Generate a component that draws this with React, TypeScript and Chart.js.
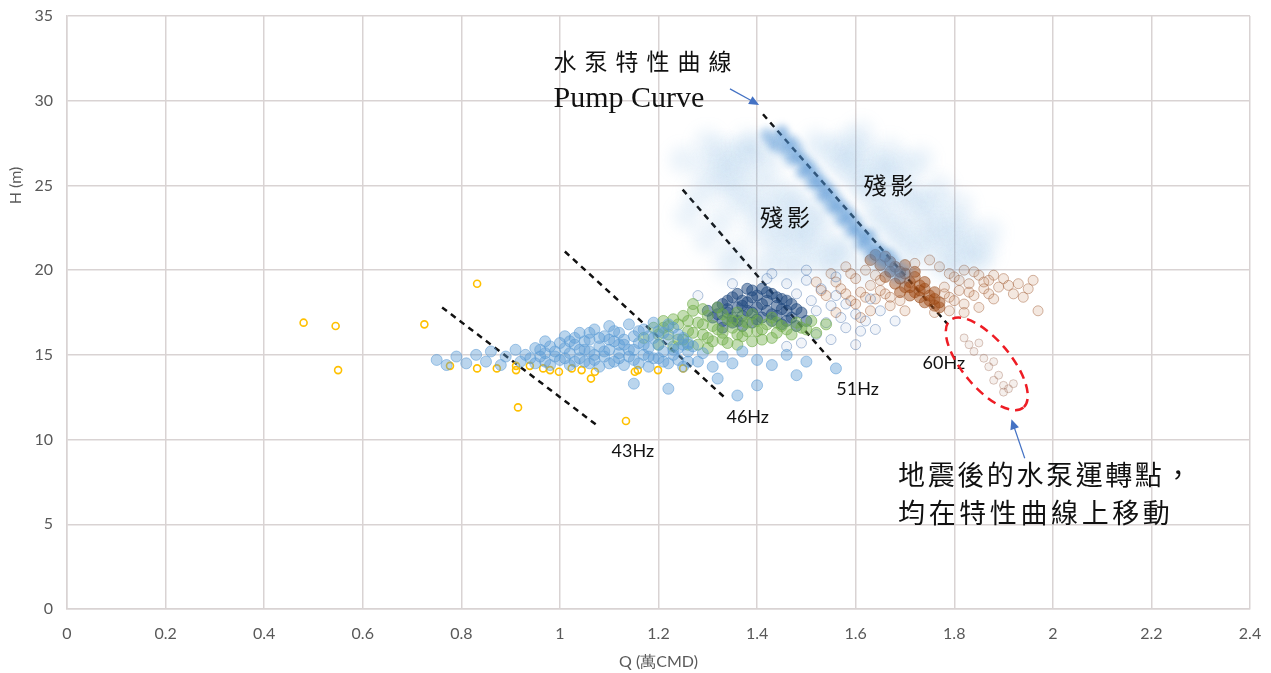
import { useEffect, useRef } from "react";
import { Chart, registerables } from "chart.js";

Chart.register(...registerables);

// Q (萬CMD) vs H (m) operating points, grouped by colour
const yellowPts = [
  [0.48, 16.9], [0.545, 16.7], [0.55, 14.1], [0.725, 16.8], [0.832, 19.2], [0.777, 14.35],
  [0.832, 14.2], [0.872, 14.2], [0.911, 14.1], [0.911, 14.35], [0.915, 11.9], [0.939, 14.35],
  [0.966, 14.2], [0.98, 14.1], [0.998, 14.0], [1.024, 14.2], [1.044, 14.1], [1.063, 13.6],
  [1.071, 14.0], [1.134, 11.1], [1.152, 14.0], [1.158, 14.1], [1.199, 14.1], [1.25, 14.2],
];

const blueLowPts = [
  [0.75, 14.7], [0.77, 14.4], [0.79, 14.9], [0.81, 14.5], [0.83, 15.0], [0.85, 14.6], [0.86, 15.2],
  [0.88, 14.4], [0.89, 14.9], [0.91, 15.3], [0.92, 14.6], [0.93, 15.0],
  [0.95, 14.5], [0.95, 15.4], [0.96, 14.9], [0.97, 15.8], [0.98, 14.4], [0.99, 15.2], [1.0, 14.7],
  [1.0, 15.7], [1.01, 16.1], [1.02, 14.4], [1.02, 15.1], [1.03, 15.6], [1.04, 14.8], [1.04, 16.3],
  [1.05, 15.3], [1.06, 14.5], [1.06, 15.9], [1.07, 15.0], [1.07, 16.5], [1.08, 14.3], [1.08, 15.5],
  [1.09, 14.9], [1.09, 16.1], [1.1, 15.3], [1.1, 16.7], [1.11, 14.6], [1.11, 15.8], [1.12, 15.1],
  [1.12, 16.3], [1.13, 14.4], [1.13, 15.6], [1.14, 14.9], [1.14, 16.8], [1.15, 15.3], [1.15, 16.1],
  [1.16, 14.5], [1.16, 15.7], [1.17, 15.0], [1.17, 16.5], [1.18, 14.3], [1.18, 15.4], [1.19, 16.0],
  [1.19, 16.9], [1.2, 14.8], [1.2, 15.6], [1.21, 15.2], [1.21, 16.3], [1.22, 14.5], [1.22, 15.9],
  [1.23, 15.0], [1.23, 16.6], [1.24, 14.7], [1.24, 15.4], [1.25, 16.0], [1.25, 14.3], [1.26, 15.2],
  [1.26, 15.7], [1.28, 14.6], [1.29, 15.1], [1.31, 14.3], [1.33, 14.9], [1.35, 14.5], [1.37, 15.2],
  [1.4, 14.7], [1.43, 14.4], [1.46, 15.0], [1.5, 14.6],
  [1.15, 13.3], [1.22, 13.0], [1.32, 13.6], [1.4, 13.2], [1.48, 13.8], [1.56, 14.2], [1.36, 12.6],
  [0.96, 15.3], [0.97, 14.6], [0.98, 15.5], [0.99, 14.9], [1.01, 15.4], [1.01, 14.8], [1.03, 14.6],
  [1.03, 16.0], [1.04, 15.3], [1.05, 14.6], [1.05, 15.8], [1.06, 15.2], [1.07, 14.7], [1.08, 16.0],
  [1.09, 15.2], [1.1, 14.5], [1.1, 15.9], [1.11, 16.4], [1.12, 14.8], [1.13, 15.9], [1.14, 15.3],
  [1.15, 14.7], [1.16, 16.4], [1.17, 15.6], [1.18, 16.1], [1.19, 14.8], [1.2, 16.4], [1.21, 14.6],
  [1.22, 16.8], [1.23, 15.3], [1.24, 16.2], [1.25, 15.6], [1.26, 14.6], [1.27, 15.5], [1.02, 15.8],
  [1.06, 16.3], [1.12, 15.6], [1.18, 14.9], [0.94, 14.8], [0.97, 15.1],
];

const greenPts = [
  [1.17, 16.0], [1.19, 16.6], [1.2, 15.6], [1.21, 17.0], [1.22, 16.2], [1.23, 15.5], [1.24, 16.8],
  [1.25, 17.3], [1.25, 15.9], [1.26, 16.4], [1.27, 17.6], [1.28, 15.6], [1.28, 16.9], [1.29, 16.2],
  [1.3, 17.3], [1.31, 15.8], [1.31, 16.7], [1.32, 17.8], [1.33, 16.3], [1.34, 17.1], [1.34, 15.7],
  [1.35, 16.6], [1.36, 17.5], [1.37, 16.1], [1.38, 16.9], [1.39, 17.4], [1.4, 16.4], [1.41, 15.9],
  [1.42, 16.8], [1.43, 17.2], [1.44, 16.3], [1.45, 16.7], [1.47, 16.2], [1.48, 16.9], [1.5, 16.5],
  [1.52, 16.3], [1.54, 16.8], [1.36, 15.6], [1.3, 15.4], [1.27, 18.0], [1.39, 15.8],
  [1.2, 16.2], [1.22, 16.7], [1.23, 17.1], [1.24, 15.9], [1.26, 17.0], [1.27, 16.3], [1.29, 16.8],
  [1.29, 17.7], [1.3, 16.0], [1.32, 16.5], [1.33, 17.4], [1.35, 17.0], [1.36, 16.2], [1.37, 17.0],
  [1.38, 16.4], [1.4, 17.0], [1.41, 16.5], [1.43, 16.0], [1.44, 16.9], [1.46, 16.5], [1.49, 16.6],
  [1.51, 17.0], [1.33, 15.9], [1.26, 15.6], [1.21, 16.6],
];

const darkBluePts = [
  [1.31, 17.2], [1.32, 17.8], [1.33, 17.0], [1.34, 18.2], [1.34, 17.5], [1.35, 16.9], [1.36, 18.6],
  [1.36, 17.8], [1.37, 17.3], [1.38, 18.9], [1.38, 18.1], [1.39, 17.5], [1.39, 16.9], [1.4, 18.5],
  [1.4, 17.8], [1.41, 17.2], [1.41, 18.9], [1.42, 18.2], [1.42, 17.6], [1.43, 17.0], [1.43, 18.6],
  [1.44, 17.9], [1.44, 17.3], [1.45, 18.3], [1.45, 16.8], [1.46, 17.6], [1.47, 18.0], [1.47, 17.2],
  [1.48, 16.7], [1.49, 17.5], [1.5, 17.0], [1.37, 16.7], [1.33, 16.6], [1.3, 17.6],
  [1.32, 17.4], [1.33, 18.0], [1.35, 17.2], [1.35, 18.4], [1.36, 17.0], [1.37, 18.2], [1.38, 17.6],
  [1.39, 18.4], [1.4, 17.1], [1.41, 18.0], [1.42, 18.7], [1.43, 17.4], [1.44, 18.4], [1.45, 17.7],
  [1.46, 18.2], [1.46, 17.0], [1.48, 17.7], [1.39, 18.8], [1.37, 17.9], [1.34, 17.7],
];

const midBluePts = [
  [1.42, 19.5], [1.46, 19.2], [1.48, 18.6], [1.5, 19.4], [1.51, 18.2], [1.52, 17.6], [1.53, 18.9],
  [1.54, 16.9], [1.55, 17.9], [1.56, 18.5], [1.57, 17.2], [1.58, 16.6], [1.58, 18.0], [1.6, 17.4],
  [1.61, 16.4], [1.62, 17.0], [1.63, 18.3], [1.65, 17.6], [1.52, 16.2], [1.55, 15.9], [1.49, 15.7],
  [1.46, 15.5], [1.43, 19.8], [1.35, 19.2], [1.28, 18.5], [1.6, 15.6], [1.64, 16.5], [1.68, 17.0],
  [1.56, 19.6], [1.5, 20.0],
];

// faded trail ("殘影") along the pump curve and its surrounding haze
const ghostStreakPts = [
  [1.43, 27.6], [1.45, 27.9], [1.46, 27.0], [1.47, 26.5], [1.48, 27.2], [1.49, 25.8], [1.5, 26.3],
  [1.51, 25.2], [1.52, 25.6], [1.53, 24.5], [1.54, 24.9], [1.55, 23.8], [1.56, 24.2], [1.57, 23.0],
  [1.58, 23.5], [1.59, 22.3], [1.6, 22.8], [1.61, 21.6], [1.62, 22.0], [1.63, 21.0], [1.64, 21.4],
  [1.65, 20.5], [1.66, 20.9], [1.67, 20.0], [1.68, 20.4], [1.69, 19.6], [1.7, 19.9], [1.47, 27.6],
  [1.51, 26.0], [1.55, 24.6], [1.59, 23.2], [1.63, 22.0], [1.67, 20.8],
  [1.44, 27.3], [1.46, 27.4], [1.48, 26.7], [1.5, 25.8], [1.52, 25.1], [1.53, 25.2], [1.54, 24.3],
  [1.56, 23.6], [1.57, 23.8], [1.58, 22.9], [1.6, 22.4], [1.61, 22.2], [1.62, 21.5], [1.64, 20.9],
  [1.65, 21.1], [1.66, 20.4], [1.68, 19.9], [1.49, 26.6], [1.45, 28.2], [1.42, 28.0],
];

const ghostHazePts = [
  [1.3, 26.0], [1.33, 27.0], [1.35, 25.5], [1.37, 26.8], [1.38, 24.0], [1.4, 27.2], [1.4, 22.5],
  [1.42, 25.0], [1.43, 21.5], [1.44, 23.5], [1.46, 24.5], [1.47, 22.0], [1.49, 23.2], [1.5, 21.0],
  [1.52, 22.5], [1.54, 20.8], [1.36, 21.0], [1.33, 23.0], [1.45, 20.5], [1.25, 26.5], [1.28, 24.5],
  [1.55, 27.0], [1.57, 26.2], [1.58, 27.5], [1.6, 25.5], [1.62, 26.8], [1.63, 24.5], [1.65, 25.8],
  [1.66, 23.5], [1.68, 24.8], [1.69, 22.5], [1.7, 26.0], [1.72, 23.8], [1.73, 21.5], [1.75, 24.0],
  [1.76, 22.0], [1.78, 23.0], [1.8, 21.0], [1.82, 22.5], [1.84, 20.5], [1.77, 20.5], [1.71, 21.0],
  [1.67, 27.0], [1.61, 28.0],
  [1.32, 25.0], [1.34, 26.2], [1.36, 24.5], [1.39, 25.8], [1.41, 23.5], [1.43, 26.5], [1.45, 22.5],
  [1.48, 24.0], [1.5, 22.0], [1.53, 23.5], [1.56, 21.5], [1.59, 26.5], [1.62, 25.0], [1.64, 23.0],
  [1.66, 26.0], [1.68, 22.0], [1.71, 24.5], [1.74, 22.8], [1.77, 24.8], [1.79, 22.0], [1.81, 23.8],
  [1.83, 21.5], [1.86, 21.0], [1.73, 26.5], [1.52, 27.5], [1.38, 27.5], [1.3, 27.5], [1.58, 21.0],
  [1.48, 20.0], [1.62, 20.0],
  [1.34, 20.2], [1.41, 20.0], [1.3, 21.8], [1.26, 23.2], [1.55, 20.0], [1.8, 20.0], [1.87, 22.2],
];

const brownCorePts = [
  [1.63, 20.6], [1.65, 20.3], [1.66, 20.8], [1.67, 19.9], [1.68, 20.2], [1.69, 19.5], [1.7, 19.8],
  [1.7, 19.0], [1.71, 19.3], [1.72, 18.7], [1.72, 19.6], [1.73, 18.4], [1.74, 18.9], [1.74, 18.1],
  [1.75, 18.5], [1.76, 17.9], [1.76, 18.3], [1.77, 17.8], [1.68, 19.2], [1.71, 18.5], [1.73, 19.1],
  [1.66, 19.6],
  [1.64, 20.9], [1.67, 20.5], [1.69, 19.9], [1.7, 20.3], [1.71, 19.0], [1.73, 18.8], [1.75, 18.2],
  [1.76, 18.7], [1.74, 19.3], [1.72, 19.9], [1.77, 18.1], [1.69, 18.7],
];

const brownPts = [
  [1.52, 19.3], [1.54, 18.5], [1.55, 19.8], [1.57, 18.9], [1.58, 20.2], [1.59, 18.2], [1.6, 19.5],
  [1.61, 18.7], [1.62, 20.0], [1.63, 19.1], [1.64, 18.3], [1.65, 19.4], [1.66, 18.6], [1.67, 17.9],
  [1.69, 18.2], [1.78, 19.0], [1.79, 18.4], [1.8, 19.6], [1.81, 18.8], [1.82, 20.0], [1.83, 19.2],
  [1.84, 18.5], [1.85, 19.7], [1.86, 18.9], [1.87, 19.4], [1.88, 18.3], [1.89, 19.0], [1.9, 19.5],
  [1.92, 18.6], [1.93, 19.2], [1.95, 18.9], [1.97, 17.6], [1.77, 20.2], [1.79, 17.6], [1.82, 17.5],
  [1.75, 20.6], [1.72, 20.4], [1.85, 17.8], [1.56, 17.5], [1.61, 17.2],
  [1.53, 18.8], [1.56, 19.3], [1.58, 18.6], [1.59, 19.8], [1.62, 18.4], [1.64, 19.7], [1.65, 18.8],
  [1.67, 18.4], [1.78, 18.6], [1.8, 18.2], [1.81, 19.4], [1.83, 18.7], [1.84, 19.9], [1.86, 19.3],
  [1.87, 18.6], [1.88, 19.7], [1.91, 19.1], [1.94, 18.4], [1.79, 19.8], [1.82, 18.0], [1.6, 18.0],
  [1.63, 17.6], [1.96, 19.4], [1.7, 17.6], [1.76, 17.5],
];

// points after the earthquake, moving down the curve
const afterQuakePts = [
  [1.82, 16.0], [1.83, 15.6], [1.84, 15.2], [1.85, 15.7], [1.86, 14.8], [1.87, 14.3], [1.88, 14.6],
  [1.89, 13.8], [1.9, 13.2], [1.91, 13.0], [1.9, 12.8], [1.88, 13.5], [1.92, 13.3],
];

// constant-frequency guide lines and the pump curve
const pumpCurve = [[1.412, 29.2], [1.787, 16.8]];
const line51Hz = [[1.249, 24.75], [1.552, 14.6]];
const line46Hz = [[1.01, 21.1], [1.335, 12.46]];
const line43Hz = [[0.761, 17.8], [1.077, 10.8]];

const xTicks = { min: 0, max: 2.4, step: 0.2 };
const yTicks = { min: 0, max: 35, step: 5 };

const xy = (arr: number[][]) => arr.map(([x, y]) => ({ x, y }));

const GRID = "#d9d3d3";
const TICK_COLOR = "#595959";

// datasets drawn with a soft blur (the faded trail)
const BLUR_BY_INDEX: Record<number, string> = { 0: "blur(7px)", 1: "blur(3px)" };

function drawArrow(ctx: CanvasRenderingContext2D, x1: number, y1: number, x2: number, y2: number, color: string) {
  const ang = Math.atan2(y2 - y1, x2 - x1);
  const len = 10;
  const half = 4.5;
  ctx.save();
  ctx.strokeStyle = color;
  ctx.fillStyle = color;
  ctx.lineWidth = 1.2;
  ctx.beginPath();
  ctx.moveTo(x1, y1);
  ctx.lineTo(x2 - Math.cos(ang) * len * 0.8, y2 - Math.sin(ang) * len * 0.8);
  ctx.stroke();
  ctx.beginPath();
  ctx.moveTo(x2, y2);
  ctx.lineTo(x2 - Math.cos(ang) * len - Math.sin(ang) * half, y2 - Math.sin(ang) * len + Math.cos(ang) * half);
  ctx.lineTo(x2 - Math.cos(ang) * len + Math.sin(ang) * half, y2 - Math.sin(ang) * len - Math.cos(ang) * half);
  ctx.closePath();
  ctx.fill();
  ctx.restore();
}

function drawSpaced(ctx: CanvasRenderingContext2D, text: string, x: number, y: number, advance: number) {
  Array.from(text).forEach((ch, i) => ctx.fillText(ch, x + i * advance, y));
}

const overlayPlugin = {
  id: "overlay",
  beforeDatasetDraw(chart: any, args: any) {
    const f = BLUR_BY_INDEX[args.index];
    if (f) {
      chart.ctx.save();
      chart.ctx.filter = f;
    }
  },
  afterDatasetDraw(chart: any, args: any) {
    if (BLUR_BY_INDEX[args.index]) chart.ctx.restore();
  },
  afterDatasetsDraw(chart: any) {
    const { ctx } = chart;
    const sx = chart.scales.x;
    const sy = chart.scales.y;
    const px = (v: number) => sx.getPixelForValue(v);
    const py = (v: number) => sy.getPixelForValue(v);
    ctx.save();

    // frequency labels
    ctx.fillStyle = "#111";
    ctx.font = "18px Lato";
    ctx.textAlign = "center";
    ctx.textBaseline = "middle";
    ctx.fillText("43Hz", px(1.148), py(9.3));
    ctx.fillText("46Hz", px(1.381), py(11.35));
    ctx.fillText("51Hz", px(1.604), py(13.0));
    ctx.fillText("60Hz", px(1.779), py(14.5));

    // pump curve caption
    ctx.textAlign = "left";
    ctx.textBaseline = "middle";
    ctx.fillStyle = "#111";
    ctx.font = "23px 'Noto Sans CJK TC'";
    drawSpaced(ctx, "水泵特性曲線", px(0.987), py(32.3), 31);
    ctx.font = "30px 'Liberation Serif'";
    ctx.textBaseline = "alphabetic";
    ctx.fillText("Pump Curve", px(0.987), py(29.6));

    // ghost trail captions
    ctx.font = "23px 'Noto Sans CJK TC'";
    ctx.textBaseline = "middle";
    drawSpaced(ctx, "殘影", px(1.406), py(23.1), 27);
    drawSpaced(ctx, "殘影", px(1.616), py(25.0), 27);

    // post-earthquake note
    ctx.font = "27px 'Noto Sans CJK TC'";
    drawSpaced(ctx, "地震後的水泵運轉點，", px(1.686), py(7.95), 29.6);
    drawSpaced(ctx, "均在特性曲線上移動", px(1.686), py(5.7), 30.6);

    // arrows
    drawArrow(ctx, px(1.345), py(30.7), px(1.404), py(29.75), "#4472C4");
    drawArrow(ctx, px(1.943), py(8.9), px(1.916), py(11.2), "#4472C4");

    // red dashed ellipse around the post-earthquake points
    ctx.strokeStyle = "#ee1c24";
    ctx.lineWidth = 2.5;
    ctx.setLineDash([9, 6]);
    ctx.beginPath();
    ctx.ellipse(px(1.866), py(14.47), 57, 24, (50 * Math.PI) / 180, 0, Math.PI * 2);
    ctx.stroke();
    ctx.setLineDash([]);

    // axis titles
    ctx.fillStyle = TICK_COLOR;
    ctx.font = "16px Lato";
    ctx.textAlign = "center";
    ctx.textBaseline = "middle";
    ctx.fillText("Q (萬CMD)", (sx.left + sx.right) / 2, 662);
    ctx.translate(16, py(25));
    ctx.rotate(-Math.PI / 2);
    ctx.fillText("H (m)", 0, 0);
    ctx.restore();
  },
};

const dashed = (data: number[][]) => ({
  data: xy(data),
  showLine: true,
  borderColor: "#111",
  borderWidth: 2.5,
  borderDash: [6, 5],
  pointRadius: 0,
});

export default function App() {
  const canvasRef = useRef<HTMLCanvasElement | null>(null);

  useEffect(() => {
    document.body.style.margin = "0";
    const canvas = canvasRef.current;
    if (!canvas) return;
    const chart = new Chart(canvas, {
      type: "scatter",
      data: {
        datasets: [
          {
            data: xy(ghostHazePts),
            pointRadius: 14,
            backgroundColor: "rgba(91,155,213,0.12)",
            borderWidth: 0,
          },
          {
            data: xy(ghostStreakPts),
            pointRadius: 7,
            backgroundColor: "rgba(80,145,210,0.38)",
            borderWidth: 0,
          },
          {
            data: xy(blueLowPts),
            pointRadius: 5.5,
            backgroundColor: "rgba(91,155,213,0.42)",
            borderColor: "rgba(91,155,213,0.55)",
            borderWidth: 1,
          },
          {
            data: xy(greenPts),
            pointRadius: 5.5,
            backgroundColor: "rgba(112,173,71,0.42)",
            borderColor: "rgba(112,173,71,0.6)",
            borderWidth: 1,
          },
          {
            data: xy(midBluePts),
            pointRadius: 5,
            backgroundColor: "rgba(80,120,175,0.08)",
            borderColor: "rgba(80,120,175,0.45)",
            borderWidth: 1,
          },
          {
            data: xy(darkBluePts),
            pointRadius: 5.5,
            backgroundColor: "rgba(35,75,128,0.52)",
            borderColor: "rgba(35,75,128,0.6)",
            borderWidth: 1,
          },
          {
            data: xy(brownPts),
            pointRadius: 5,
            backgroundColor: "rgba(185,110,65,0.16)",
            borderColor: "rgba(160,90,50,0.45)",
            borderWidth: 1,
          },
          {
            data: xy(brownCorePts),
            pointRadius: 5.5,
            backgroundColor: "rgba(160,75,20,0.48)",
            borderColor: "rgba(150,70,20,0.5)",
            borderWidth: 1,
          },
          {
            data: xy(afterQuakePts),
            pointRadius: 4,
            backgroundColor: "rgba(170,120,100,0.12)",
            borderColor: "rgba(160,110,90,0.38)",
            borderWidth: 1,
          },
          {
            data: xy(yellowPts),
            pointRadius: 3.5,
            backgroundColor: "rgba(255,255,255,0)",
            borderColor: "#FFC000",
            borderWidth: 1.6,
          },
          dashed(pumpCurve),
          dashed(line51Hz),
          dashed(line46Hz),
          dashed(line43Hz),
        ],
      },
      options: {
        responsive: false,
        animation: false,
        devicePixelRatio: 1,
        layout: { padding: { top: 16, right: 21, left: 0, bottom: 0 } },
        plugins: { legend: { display: false }, tooltip: { enabled: false } },
        scales: {
          x: {
            type: "linear",
            min: xTicks.min,
            max: xTicks.max,
            afterFit: (s: any) => {
              s.height = 64;
              s.paddingLeft = 0;
              s.paddingRight = 0;
            },
            ticks: {
              stepSize: xTicks.step,
              padding: 15,
              color: TICK_COLOR,
              font: { family: "Lato", size: 16 },
              callback: (v: any) => String(Math.round(Number(v) * 10) / 10),
            },
            grid: { color: GRID, lineWidth: 1.5, drawTicks: false },
            border: { color: GRID, width: 1.5 },
          },
          y: {
            type: "linear",
            min: yTicks.min,
            max: yTicks.max,
            afterFit: (s: any) => {
              s.width = 67;
              s.paddingTop = 0;
              s.paddingBottom = 0;
            },
            ticks: {
              stepSize: yTicks.step,
              padding: 14,
              color: TICK_COLOR,
              font: { family: "Lato", size: 16 },
            },
            grid: { color: GRID, lineWidth: 1.5, drawTicks: false },
            border: { color: GRID, width: 1.5 },
          },
        },
      },
      plugins: [overlayPlugin],
    });
    return () => chart.destroy();
  }, []);

  return (
    <div style={{ position: "absolute", left: 0, top: 0, width: 1271, height: 673, background: "#fff" }}>
      <canvas ref={canvasRef} width={1271} height={673} style={{ display: "block" }} />
    </div>
  );
}
